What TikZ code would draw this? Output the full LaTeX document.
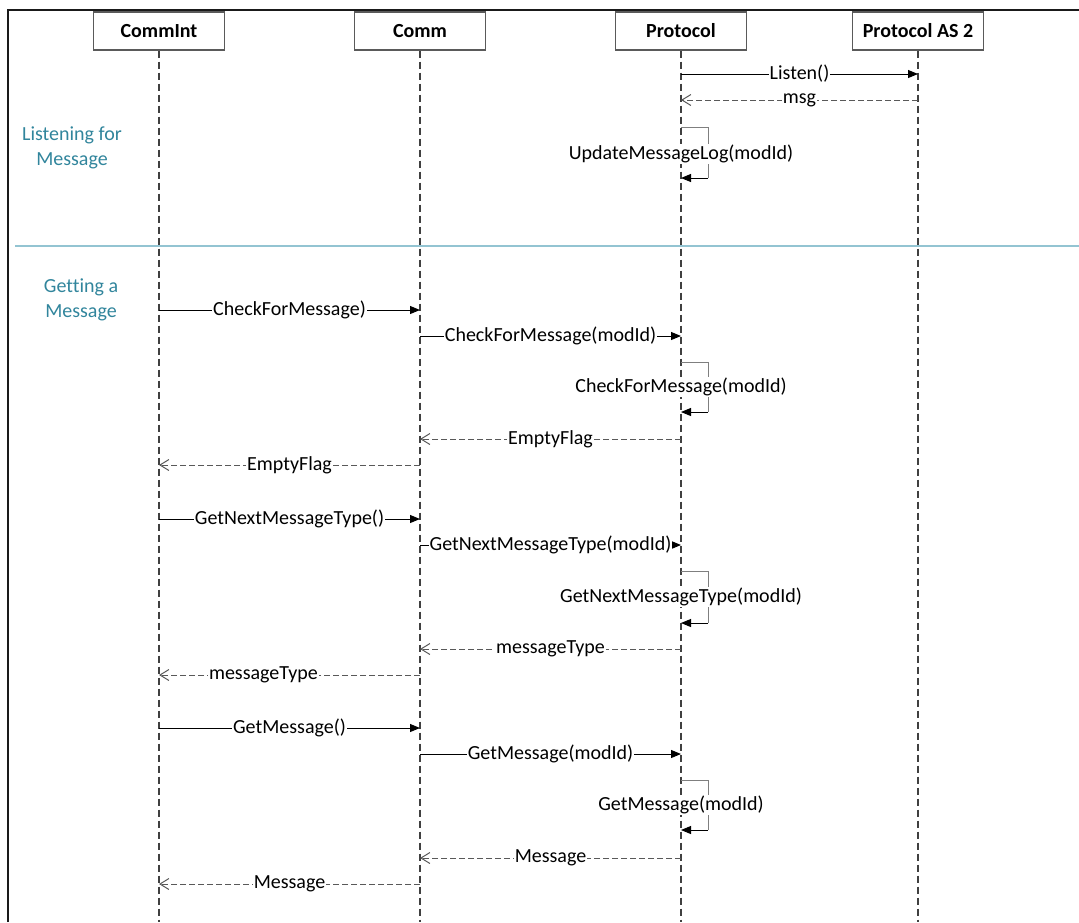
\documentclass[tikz,border=0pt]{standalone}
\usepackage{fontspec}
\setmainfont[Ligatures=NoCommon]{Carlito}
\usetikzlibrary{arrows.meta, positioning}
\definecolor{cframe}{HTML}{1a1a1a}
\definecolor{cbox}{HTML}{5a5a5a}
\definecolor{clife}{HTML}{404040}
\definecolor{cret}{HTML}{595959}
\definecolor{cloop}{HTML}{7f7f7f}
\definecolor{csec}{HTML}{31859c}
\definecolor{csep}{HTML}{93c4d2}

\begin{document}
\begin{tikzpicture}[
  x=1pt, y=-1pt,
  font=\fontsize{20}{25}\selectfont,
  actor/.style={draw=cbox, line width=1.2pt, fill=white, minimum width=131pt,
                minimum height=38pt, inner sep=0pt, font=\fontsize{20}{25}\selectfont\bfseries},
  life/.style={draw=clife, line width=1.3pt, dash pattern=on 7pt off 4pt},
  call/.style={draw=black, line width=1pt, -{Triangle[length=10pt, width=8pt]}},
  ret/.style={draw=cret, line width=1pt, dash pattern=on 6pt off 3pt,
              -{Straight Barb[length=9pt, width=11pt, line width=1pt]}},
  self/.style={draw=cloop, line width=1pt},
  lbl/.style={fill=white, inner sep=1pt},
  sect/.style={text=csec, align=center},
  ]
\useasboundingbox (0,0) rectangle (1079,922);

% actors
\node[actor] (commint) at (159,31) {CommInt};
\node[actor] (comm)    at (420,31) {Comm};
\node[actor] (proto)   at (681,31) {Protocol};
\node[actor] (protoas) at (918,31) {Protocol AS 2};

% lifelines
\foreach \a in {commint, comm, proto, protoas}
  \draw[life] (\a.south) -- (\a.south |- 0,922);

% frame and separator
\draw[cframe, line width=2.5pt] (8,922) -- (8,10) -- (1079,10);
\draw[csep, line width=2pt] (15,246) -- (1079,246);

\node[sect] (listen) at (72,148) {Listening for\\Message};
\node[sect] (getting) at (81,300) {Getting a\\Message};

% listening
\draw[call] (proto |- 0,74) -- node[lbl] {Listen()} (protoas |- 0,74);
\draw[ret] (protoas |- 0,100) -- node[lbl] {msg} (proto |- 0,100);
\draw[self] (proto |- 0,127) -| ++(27,51) coordinate (upd);
\draw[call] (upd) -- (proto |- upd);
\node[lbl] (updlbl) at (proto |- 0,154) {UpdateMessageLog(modId)};

% getting a message
\draw[call] (commint |- 0,310) -- node[lbl] {CheckForMessage)} (comm |- 0,310);
\draw[call] (comm |- 0,336) -- node[lbl] {CheckForMessage(modId)} (proto |- 0,336);
\draw[self] (proto |- 0,362) -| ++(27,50) coordinate (chk);
\draw[call] (chk) -- (proto |- chk);
\node[lbl] (chklbl) at (proto |- 0,387) {CheckForMessage(modId)};
\draw[ret] (proto |- 0,439) -- node[lbl] {EmptyFlag} (comm |- 0,439);
\draw[ret] (comm |- 0,465) -- node[lbl] {EmptyFlag} (commint |- 0,465);

\draw[call] (commint |- 0,519) -- node[lbl] {GetNextMessageType()} (comm |- 0,519);
\draw[call] (comm |- 0,545) -- node[lbl] {GetNextMessageType(modId)} (proto |- 0,545);
\draw[self] (proto |- 0,571) -| ++(27,52) coordinate (nxt);
\draw[call] (nxt) -- (proto |- nxt);
\node[lbl] (nxtlbl) at (proto |- 0,597) {GetNextMessageType(modId)};
\draw[ret] (proto |- 0,649) -- node[lbl] {messageType} (comm |- 0,649);
\draw[ret] (comm |- 0,675) -- node[lbl, pos=0.6] {messageType} (commint |- 0,675);

\draw[call] (commint |- 0,728) -- node[lbl] {GetMessage()} (comm |- 0,728);
\draw[call] (comm |- 0,754) -- node[lbl] {GetMessage(modId)} (proto |- 0,754);
\draw[self] (proto |- 0,780) -| ++(27,50) coordinate (get);
\draw[call] (get) -- (proto |- get);
\node[lbl] (getlbl) at (proto |- 0,805) {GetMessage(modId)};
\draw[ret] (proto |- 0,858) -- node[lbl] {Message} (comm |- 0,858);
\draw[ret] (comm |- 0,884) -- node[lbl] {Message} (commint |- 0,884);
\end{tikzpicture}
\end{document}
